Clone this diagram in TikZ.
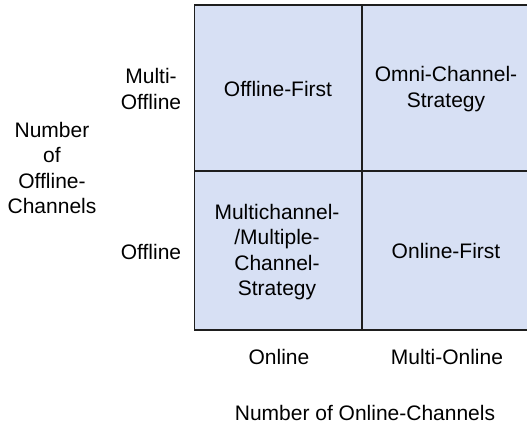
\documentclass[tikz,border=0pt]{standalone}
\usepackage{fontspec}
\setmainfont{Liberation Sans}
\definecolor{cellfill}{RGB}{215,224,244}
\definecolor{gridline}{RGB}{30,30,30}
\begin{document}
\begin{tikzpicture}[x=1pt,y=-1pt,
  lbl/.style={align=center,inner sep=0pt,font=\fontsize{21}{25.5}\selectfont,text=black},
  gridln/.style={draw=gridline,line width=1.8pt}]
\useasboundingbox (0,0) rectangle (527,427);
\fill[cellfill] (194.5,5) rectangle (530,330);
\coordinate (tl) at (194.5,5);
\coordinate (tr) at (530,5);
\coordinate (bl) at (194.5,330);
\coordinate (br) at (530,330);
\coordinate (mt) at (362,5);
\coordinate (mb) at (362,330);
\coordinate (ml) at (194.5,171);
\coordinate (mr) at (530,171);
\draw[gridln] (tr) -- (tl) -- (bl) -- (br);
\draw[gridln] (mt) -- (mb);
\draw[gridln] (ml) -- (mr);
\node[lbl] (c11) at (278,89) {Offline-First};
\node[lbl] (c12) at (446,89) {Omni-Channel-\\Strategy};
\node[lbl] (c21) at (277,252) {Multichannel-\\/Multiple-\\Channel-\\Strategy};
\node[lbl] (c22) at (446,251) {Online-First};
\node[lbl] (ymulti) at (151,89) {Multi-\\Offline};
\node[lbl] (yoff) at (151,252) {Offline};
\node[lbl] (ytitle) at (52,168) {Number\\of\\Offline-\\Channels};
\node[lbl] (xon) at (279,357) {Online};
\node[lbl] (xmulti) at (447,357) {Multi-Online};
\node[lbl] (xtitle) at (365,413) {Number of Online-Channels};
\end{tikzpicture}
\end{document}
